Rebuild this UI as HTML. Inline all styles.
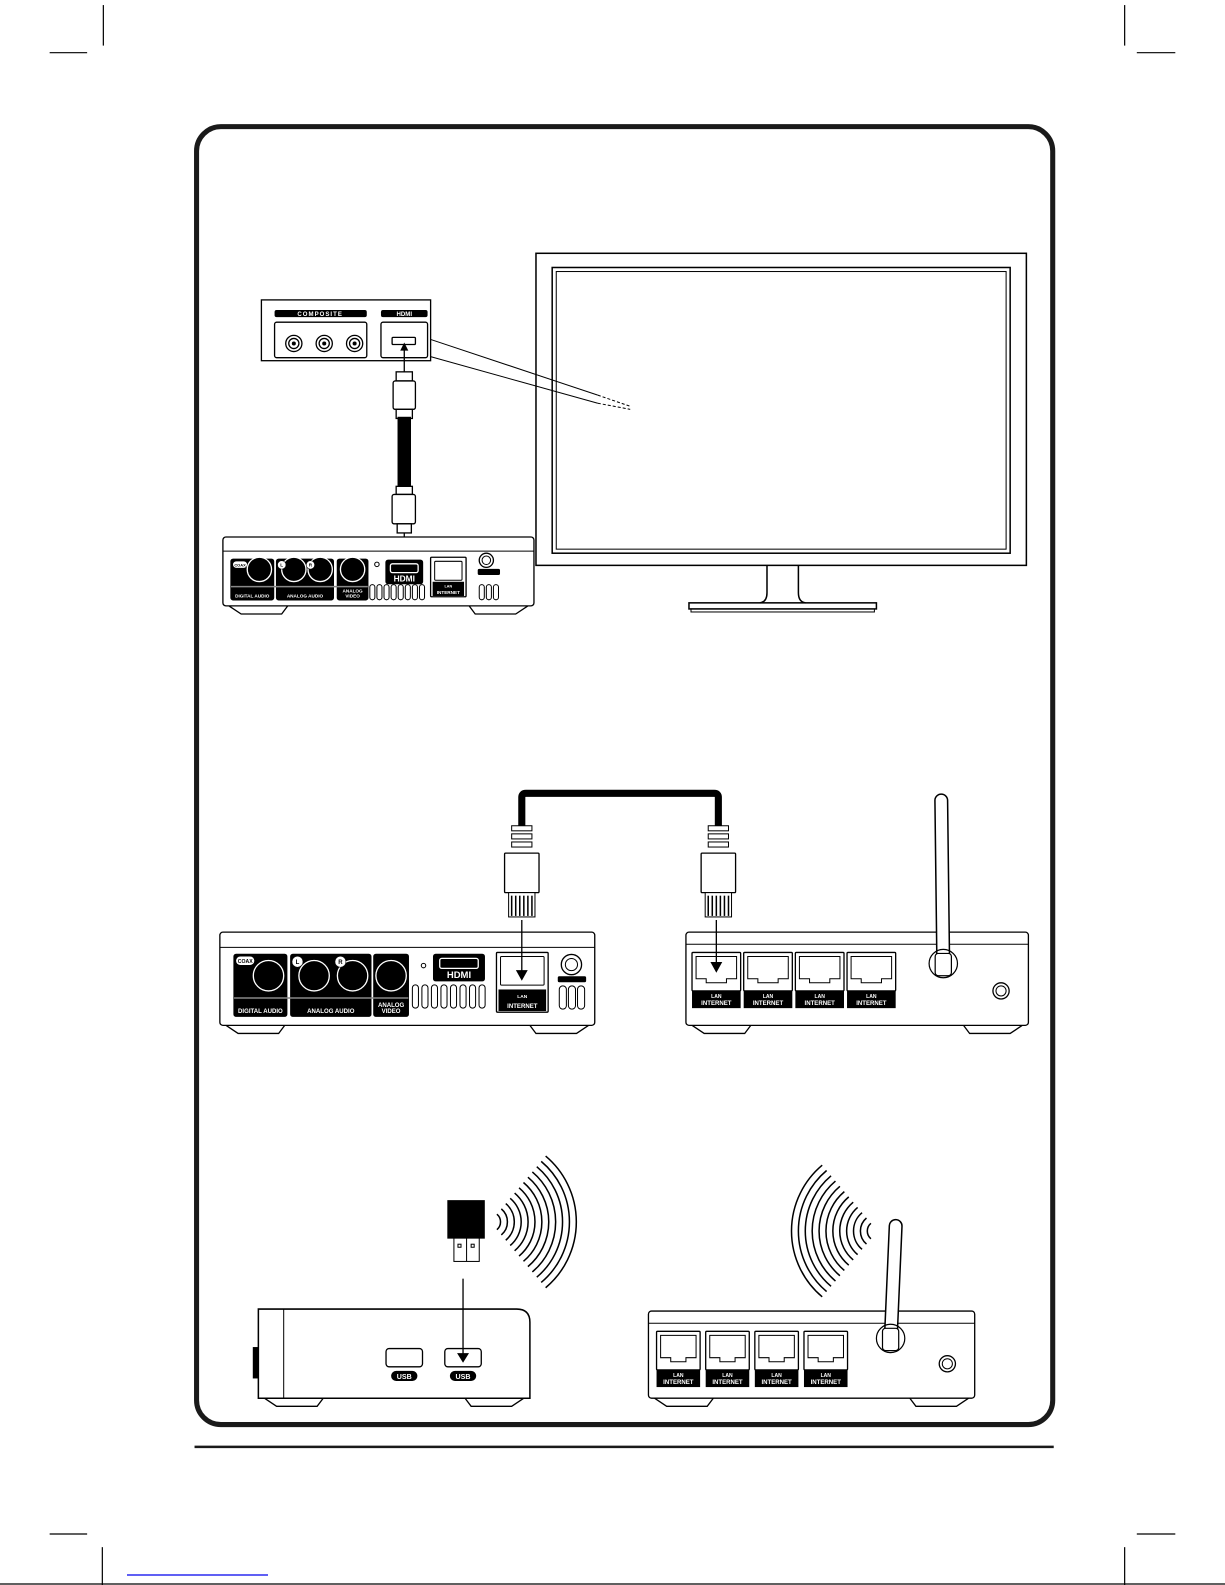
<!DOCTYPE html>
<html><head><meta charset="utf-8"><style>
html,body{margin:0;padding:0;background:#fff}
svg{display:block}
text{font-family:"Liberation Sans",sans-serif;font-weight:bold}
</style></head><body>
<svg id="s" width="1225" height="1585" viewBox="0 0 1225 1585" xmlns="http://www.w3.org/2000/svg">
<line x1="0" y1="1584" x2="1225" y2="1584" stroke="#000" stroke-width="1.2"/>
<line x1="127" y1="1575" x2="268" y2="1575" stroke="#00e" stroke-width="1.2"/>
<g transform="scale(1.0132)">
<g stroke="#000" stroke-width="1.2" fill="none">
<line x1="102" y1="5" x2="102" y2="45"/><line x1="49" y1="52" x2="86" y2="52"/>
<line x1="1110" y1="5" x2="1110" y2="45"/><line x1="1122" y1="52" x2="1160" y2="52"/>
<line x1="49" y1="1514" x2="86" y2="1514"/><line x1="101" y1="1527" x2="101" y2="1570"/>
<line x1="1122" y1="1514" x2="1160" y2="1514"/><line x1="1110" y1="1527" x2="1110" y2="1570"/>
</g>
<rect x="194" y="125" width="845" height="1281" rx="24" fill="none" stroke="#1a1a1a" stroke-width="5"/>
<line x1="192" y1="1428" x2="1040" y2="1428" stroke="#1a1a1a" stroke-width="2.5"/>

<!-- TV -->
<g fill="none" stroke="#000" stroke-width="1.5">
<rect x="529" y="250" width="484" height="308"/>
<rect x="545" y="264" width="452" height="282"/>
<rect x="549" y="268" width="444" height="274" stroke-width="1"/>
<path d="M757 558 V585 Q757 594 750 595 M788 558 V585 Q788 594 795 595"/>
<rect x="680" y="595" width="185" height="6"/>
<rect x="682" y="601" width="181" height="3" stroke-width="1"/>
</g>

<!-- composite panel -->
<g stroke="#000" stroke-width="1.3" fill="#fff">
<line x1="425" y1="335" x2="590" y2="390" stroke-width="1"/>
<line x1="425" y1="352" x2="590" y2="398" stroke-width="1"/>
<line x1="590" y1="390" x2="622" y2="401" stroke-width="1" stroke-dasharray="3 2"/>
<line x1="590" y1="398" x2="622" y2="404" stroke-width="1" stroke-dasharray="3 2"/>
<rect x="258" y="296" width="167" height="60"/>
<rect x="271" y="318" width="91" height="35" rx="2"/>
<rect x="376" y="318" width="46" height="35" rx="2"/>
<circle cx="290" cy="339" r="8"/><circle cx="290" cy="339" r="5"/>
<circle cx="320" cy="339" r="8"/><circle cx="320" cy="339" r="5"/>
<circle cx="350" cy="339" r="8"/><circle cx="350" cy="339" r="5"/>
<rect x="387" y="333" width="23" height="7" rx="1"/>
</g>
<g fill="#000"><circle cx="290" cy="339" r="2"/><circle cx="320" cy="339" r="2"/><circle cx="350" cy="339" r="2"/>
<rect x="271" y="306" width="91" height="7" rx="2"/><rect x="376" y="306" width="46" height="7" rx="2"/></g>
<text x="316" y="312" font-size="6" fill="#fff" text-anchor="middle" letter-spacing="1">COMPOSITE</text>
<text x="399" y="312" font-size="6" fill="#fff" text-anchor="middle">HDMI</text>

<!-- HDMI cable -->
<g stroke="#000" stroke-width="1.3" fill="#fff">
<line x1="399" y1="367" x2="399" y2="345"/>
<rect x="391" y="367" width="16" height="9"/>
<rect x="388" y="376" width="22" height="28" rx="2"/>
<rect x="391" y="404" width="16" height="9"/>
<rect x="393" y="412" width="12" height="68" fill="#000"/>
<rect x="391" y="480" width="16" height="8"/>
<rect x="387" y="488" width="23" height="29" rx="2"/>
<rect x="392" y="517" width="14" height="9"/>
<line x1="399" y1="526" x2="399" y2="546"/>
</g>
<path d="M395 346 L399 338 L403 346Z M395 544 L399 551 L403 544Z" fill="#000"/>

<g id="dyn"></g>
</g>
</svg>
<script>
const g=document.getElementById('dyn');
let h='';
function R(x,y,w,hh,f,rx,sw){h+=`<rect x="${x}" y="${y}" width="${w}" height="${hh}" rx="${rx||0}" fill="${f||'#fff'}" stroke="#000" stroke-width="${sw||1.3}"/>`}
function L(x1,y1,x2,y2,sw){h+=`<line x1="${x1}" y1="${y1}" x2="${x2}" y2="${y2}" stroke="#000" stroke-width="${sw||1.3}"/>`}
function C(cx,cy,r,f,sw,st){h+=`<circle cx="${cx}" cy="${cy}" r="${r}" fill="${f||'#fff'}" stroke="${st||'#000'}" stroke-width="${sw||1.3}"/>`}
function T(x,y,s,t,f){h+=`<text x="${x}" y="${y}" font-size="${s}" fill="${f||'#fff'}" text-anchor="middle">${t}</text>`}
function P(d,f,sw){h+=`<path d="${d}" fill="${f||'none'}" stroke="#000" stroke-width="${sw||1.3}"/>`}
function feet(x1,x2,y){P(`M${x1} ${y} l12 8 h40 l6 -8`,'#fff');P(`M${x2} ${y} l-12 8 h-40 l-6 -8`,'#fff')}
function vents(x,y,n,w,hh,gap){for(let i=0;i<n;i++)R(x+i*gap,y,w,hh,'#fff',w/2,1)}
function player(c){
 const {x1,x2,y1,y2,strip,pt,pb,sep,fs}=c;
 feet(x1+6,x2-6,y2);
 R(x1,y1,x2-x1,y2-y1,'#fff',3);L(x1,strip,x2,strip,1);
 const ph=pb-pt, cy=c.cy, r=c.r;
 R(c.d[0],pt,c.d[1]-c.d[0],ph,'#000',2);R(c.a[0],pt,c.a[1]-c.a[0],ph,'#000',2);R(c.v[0],pt,c.v[1]-c.v[0],ph,'#000',2);
 C(c.d[2],cy,r,'#000',1.3,'#fff');C(c.a[2],cy,r,'#000',1.3,'#fff');C(c.a[3],cy,r,'#000',1.3,'#fff');C(c.v[2],cy,r,'#000',1.3,'#fff');
 h+=`<line x1="${c.d[0]}" y1="${sep}" x2="${c.v[1]}" y2="${sep}" stroke="#888" stroke-width="1.5"/>`;
 const ty=pb-fs*0.5;
 T((c.d[0]+c.d[1])/2,ty,fs,'DIGITAL AUDIO');T((c.a[0]+c.a[1])/2,ty,fs,'ANALOG AUDIO');
 T((c.v[0]+c.v[1])/2,ty-fs*1.05,fs,'ANALOG');T((c.v[0]+c.v[1])/2,ty,fs,'VIDEO');
 h+=`<rect x="${c.d[0]+2}" y="${pt+2}" width="${fs*3}" height="${fs*1.4}" rx="${fs*0.7}" fill="#fff"/>`;T(c.d[0]+2+fs*1.5,pt+2+fs*1.1,fs*0.85,'COAX','#000');
 C(c.a[0]+fs*1.1,pt+fs*1.2,fs*0.9,'#fff',0.5);T(c.a[0]+fs*1.1,pt+fs*1.6,fs,'L','#000');
 C(c.a[3]-r*0.8,pt+fs*1.2,fs*0.9,'#fff',0.5);T(c.a[3]-r*0.8,pt+fs*1.6,fs,'R','#000');
 C(c.led[0],c.led[1],2.2,'#fff',1);
 const hd=c.hd; R(hd[0],hd[1],hd[2]-hd[0],hd[3]-hd[1],'#000',2);
 const hw=hd[2]-hd[0], hh=hd[3]-hd[1];
 h+=`<rect x="${hd[0]+hw*0.12}" y="${hd[1]+hh*0.15}" width="${hw*0.76}" height="${hh*0.38}" rx="2" fill="none" stroke="#fff" stroke-width="1.3"/>`;T((hd[0]+hd[2])/2,hd[3]-hh*0.1,hh*0.36,'HDMI');
 vents(c.vt[0],c.vt[1],8,c.vt[2],c.vt[3],c.vt[4]);
 const ln=c.lan; R(ln[0],ln[1],ln[2]-ln[0],ln[3]-ln[1],'#fff',1);
 const lw=ln[2]-ln[0], lh=ln[3]-ln[1];
 R(ln[0]+4,ln[1]+4,lw-8,lh*0.48,'#fff',1,1);
 h+=`<rect x="${ln[0]+2}" y="${ln[1]+lh*0.62}" width="${lw-4}" height="${lh*0.36}" fill="#000"/>`;
 T((ln[0]+ln[2])/2,ln[1]+lh*0.76,fs*0.8,'LAN');T((ln[0]+ln[2])/2,ln[3]-lh*0.07,fs,'INTERNET');
 C(c.pw[0],c.pw[1],c.pw[2],'#fff',1.3);C(c.pw[0],c.pw[1],c.pw[2]*0.6,'#fff',1);
 R(c.pv[0],c.pw[1]+c.pw[2]+2,c.pv[1]*3,5,'#000',1,1);
 vents(c.pv[0]+1,c.pv[2],3,c.pv[1]-2,c.pv[3],c.pv[1]);
}
player({x1:220,x2:527,y1:530,y2:598,strip:544,pt:552,pb:592,sep:579,fs:4.6,cy:562,r:12,
 d:[228,270,256],a:[273,329,290,316],v:[333,363,348],led:[372,557],hd:[381,553,417,576],
 vt:[365,577,5,15,7],lan:[425,550,460,589],pw:[480,553,7],pv:[472,7,577,15]});
player({x1:217,x2:587,y1:920,y2:1012,strip:935,pt:942,pb:1003,sep:985,fs:6,cy:963,r:15,
 d:[231,283,265],a:[287,366,310,348],v:[369,403,386],led:[418,953],hd:[428,942,478,968],
 vt:[407,972,6,23,9.4],lan:[490,940,541,999],pw:[564,952,10],pv:[551,9,973,23]});
// ethernet cable
h+=`<path d="M515 817 V787 Q515 783 519 783 H705 Q709 783 709 787 V817" fill="none" stroke="#000" stroke-width="7"/>`;
function rj(cx){R(cx-10,815,20,5,'#fff',0,1);R(cx-10,823,20,5,'#fff',0,1);R(cx-10,831,20,5,'#fff',0,1);R(cx-17,842,34,39,'#fff',1);R(cx-13,881,26,24,'#fff',0,1);for(let i=0;i<6;i++)L(cx-10+i*4,884,cx-10+i*4,904,1.5);}
rj(515);rj(709);
L(515,908,515,960);P('M510 958 L515 967 L520 958Z','#000',1);
// router
function router(x,y,w,hh,px,pw,pg,ant,pwr){
 feet(x+6,x+w-6,y+hh);
 R(x,y,w,hh,'#fff',3);L(x,y+12,x+w,y+12,1);
 for(let i=0;i<4;i++){const X=px+i*pg;R(X,y+20,pw,38,'#fff',1);P(`M${X+4} ${y+24} h${pw-8} v22 h-10 v4 h-${pw-28} v-4 h-10z`,'#fff',1);
  h+=`<rect x="${X}" y="${y+58}" width="${pw}" height="17" fill="#000"/>`;T(X+pw/2,y+65,5,'LAN');T(X+pw/2,y+72,6,'INTERNET');}
 const [ax1,ay1,ax2,ay2]=ant;
 h+=`<line x1="${ax1}" y1="${ay1}" x2="${ax2}" y2="${ay2}" stroke="#000" stroke-width="14" stroke-linecap="round"/><line x1="${ax1}" y1="${ay1}" x2="${ax2}" y2="${ay2}" stroke="#fff" stroke-width="11" stroke-linecap="round"/>`;
 C(ax2,ay2-4,14,'none',1.2);R(ax2-8,ay2-14,16,22,'#fff',3,1.2);
 C(pwr[0],pwr[1],8,'#fff',1.3);C(pwr[0],pwr[1],5,'#fff',1);
}
router(677,920,338,92,683,48,51,[929,790,931,955],[988,978]);
L(707,908,707,950);
P('M702 950 L707 959 L712 950Z','#000',1);
router(640,1294,322,86,648,43,48.5,[884,1210,879,1325],[935,1346]);
// player3
feet(261,517,1380);
P('M255 1292 H510 Q523 1292 523 1305 V1380 H255 Z','#fff',1.5);
L(280,1292,280,1380,1);R(250,1330,5,30,'#000',0,1);
R(381,1331,36,18,'#fff',3);R(439,1331,36,18,'#fff',3);
h+=`<rect x="386" y="1353" width="26" height="10" rx="5" fill="#000"/><rect x="444" y="1353" width="26" height="10" rx="5" fill="#000"/>`;
T(399,1361,7,'USB');T(457,1361,7,'USB');
R(442,1185,36,37,'#000',0,1);R(448,1222,25,23,'#fff',0,1);L(460.5,1222,460.5,1245,1);
R(452,1228,3,3,'#fff',0,1);R(465,1228,3,3,'#fff',0,1);
L(457,1262,457,1336);P('M452 1336 L457 1344 L462 1336Z','#000',1);
function waves(cx,cy,dir){for(let i=0;i<12;i++){const r=10+i*6.8;const dx=r*0.643*dir,dy=r*0.766;
 P(`M${cx+dx} ${cy-dy} A${r} ${r} 0 0 ${dir>0?1:0} ${cx+dx} ${cy+dy}`,'none',1.5);}}
waves(484,1206,1);waves(866,1215,-1);
g.innerHTML=h;
</script>
</body></html>
